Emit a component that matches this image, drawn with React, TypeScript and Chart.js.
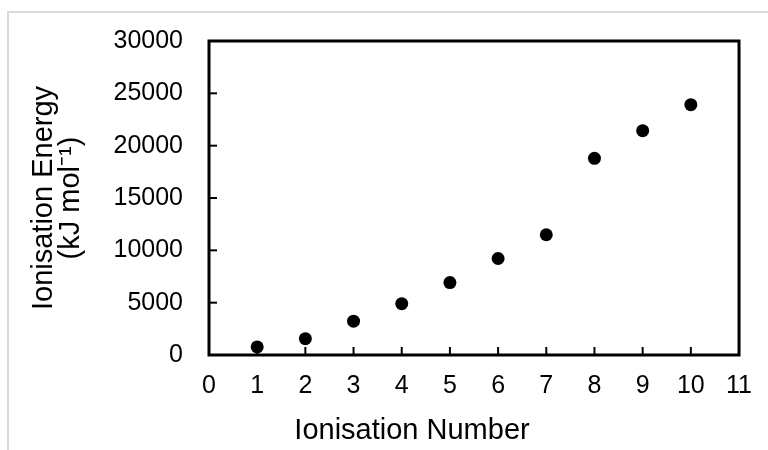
import React, { useEffect, useRef } from "react";
import { Chart, registerables } from "chart.js";

Chart.register(...registerables);

const ionisationNumbers = [1, 2, 3, 4, 5, 6, 7, 8, 9, 10];
const ionisationEnergies = [775, 1560, 3230, 4900, 6920, 9220, 11490, 18790, 21430, 23920];
const xTitle = "Ionisation Number";
const yTitle = ["Ionisation Energy", "(kJ mol\u207B\u00B9)"];

const FONT = "'Liberation Sans', Arial, Helvetica, sans-serif";

const framePlugin = {
  id: "frame",
  afterDraw(chart: any) {
    const { ctx, chartArea, scales } = chart;
    const { left, top, right, bottom } = chartArea;
    ctx.save();
    ctx.strokeStyle = "#000";
    // inward ticks
    ctx.lineWidth = 2;
    const ys = scales.y;
    ys.ticks.forEach((t: any) => {
      const p = ys.getPixelForValue(t.value);
      if (t.value <= ys.min || t.value >= ys.max) return;
      ctx.beginPath();
      ctx.moveTo(left, p);
      ctx.lineTo(left + 8, p);
      ctx.stroke();
    });
    const xs = scales.x;
    xs.ticks.forEach((t: any) => {
      const p = xs.getPixelForValue(t.value);
      if (t.value <= xs.min || t.value >= xs.max) return;
      ctx.beginPath();
      ctx.moveTo(p, bottom);
      ctx.lineTo(p, bottom - 8);
      ctx.stroke();
    });
    ctx.lineWidth = 3;
    ctx.strokeRect(left, top, right - left, bottom - top);
    // x-axis title (offset to the left as in the reference)
    ctx.fillStyle = "#000";
    ctx.font = `29px ${FONT}`;
    ctx.textAlign = "center";
    ctx.textBaseline = "middle";
    ctx.fillText(xTitle, 412, xs.bottom - 19);
    ctx.restore();
  },
};

export default function App() {
  const ref = useRef<HTMLCanvasElement | null>(null);

  useEffect(() => {
    if (!ref.current) return;
    const chart = new Chart(ref.current, {
      type: "scatter",
      data: {
        datasets: [
          {
            data: ionisationNumbers.map((x, i) => ({ x, y: ionisationEnergies[i] })),
            backgroundColor: "#000",
            borderColor: "#000",
            borderWidth: 0,
            pointRadius: 6.5,
            pointHoverRadius: 6.5,
          },
        ],
      },
      options: {
        responsive: false,
        animation: false,
        layout: { padding: { top: 33, right: 21, bottom: 0, left: 0 } },
        plugins: { legend: { display: false }, tooltip: { enabled: false } },
        scales: {
          x: {
            type: "linear",
            min: 0,
            max: 11,
            afterFit: (s: any) => {
              s.height = 95;
            },
            grid: { display: false, drawTicks: false },
            border: { display: false },
            ticks: {
              stepSize: 1,
              padding: 16,
              color: "#000",
              font: { family: FONT, size: 25 },
              maxRotation: 0,
              autoSkip: false,
            },
            title: { display: false, text: xTitle },
          },
          y: {
            type: "linear",
            min: 0,
            max: 30000,
            afterFit: (s: any) => {
              s.width = 209;
            },
            grid: { display: false, drawTicks: false },
            border: { display: false },
            ticks: {
              stepSize: 5000,
              padding: 26,
              color: "#000",
              font: { family: FONT, size: 25 },
              callback: (v: any) => String(v),
            },
            title: {
              display: true,
              text: yTitle,
              color: "#000",
              font: { family: FONT, size: 29, lineHeight: 0.92 },
              padding: { top: 31, bottom: 0 },
            },
          },
        },
      },
      plugins: [framePlugin],
    });
    return () => chart.destroy();
  }, []);

  return (
    <div style={{ position: "fixed", left: 0, top: 0, width: 768, height: 450, background: "#fff", overflow: "hidden" }}>
      <div
        style={{
          position: "absolute",
          left: 7,
          top: 11,
          width: 800,
          height: 500,
          borderTop: "2px solid #d9d9d9",
          borderLeft: "2px solid #d9d9d9",
        }}
      />
      <canvas ref={ref} width={768} height={450} style={{ position: "absolute", left: 0, top: 0, width: 768, height: 450 }} />
    </div>
  );
}
